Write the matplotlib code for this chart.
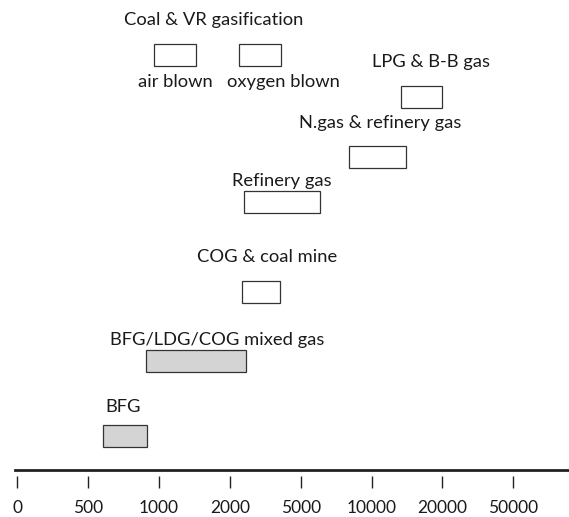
import matplotlib.pyplot as plt
import numpy as np

# tick values of the (stretched) x axis
tick_values = [0, 500, 1000, 2000, 5000, 10000, 20000, 50000]
tick_labels = ["0", "500", "1000", "2000", "5000", "10000", "20000", "50000"]

# ranges
gases = ["air blown", "oxygen blown", "LPG & B-B gas", "N.gas & refinery gas",
         "Refinery gas", "COG & coal mine", "BFG/LDG/COG mixed gas", "BFG"]
low = [950, 2250, 13300, 8050, 2400, 2350, 880, 580]
high = [1440, 3870, 19850, 14000, 6020, 3820, 2460, 890]
shaded = [False, False, False, False, False, False, True, True]

# row centres, in pixels from the top of the figure
row_y = [55, 55, 97, 157, 202, 292, 361, 436]

W, H = 569, 517
axis_y = 469.7

# piecewise-log scale: each tick step takes the same width
anchor_idx = np.arange(1, 9)
anchor_log = np.log10([500, 1000, 2000, 5000, 10000, 20000, 50000, 100000])


def forward(v):
    v = np.asarray(v, dtype=float)
    p = np.interp(np.log10(np.clip(v, 500, None)), anchor_log, anchor_idx)
    return np.where(v < 500, v / 500, p)


def inverse(p):
    p = np.asarray(p, dtype=float)
    v = 10 ** np.interp(p, anchor_idx, anchor_log)
    return np.where(p < 1, p * 500, v)


plt.rcParams["font.family"] = ["Lato", "DejaVu Sans"]

fig = plt.figure(figsize=(W / 100, H / 100), dpi=100)
ax = fig.add_axes([15 / W, (H - axis_y) / H, (W - 15) / W, axis_y / H])
ax.set_xscale("function", functions=(forward, inverse))

step = 70.85
x0 = 17.3
ax.set_xlim(float(inverse((15 - x0) / step)), float(inverse((W - x0) / step)))
ax.set_ylim(axis_y, 0)

for lo, hi, y, sh in zip(low, high, row_y, shaded):
    ax.barh(y, hi - lo, left=lo, height=22,
            color="#d4d4d4" if sh else "white",
            edgecolor="#333333", linewidth=0.9)

for s in ["top", "right", "left", "bottom"]:
    ax.spines[s].set_visible(False)
ax.axhline(axis_y, color="#222222", linewidth=2.0, clip_on=False)
ax.spines["bottom"].set_position(("outward", 4.3))
ax.set_yticks([])
ax.set_xticks(tick_values)
ax.set_xticklabels(tick_labels, fontsize=12.5, color="#1a1a1a")
ax.tick_params(axis="x", direction="out", length=8.4, width=1.0,
               color="#222222", pad=9)
ax.minorticks_off()

# labels: (text, centre x px, centre y px)
labels = [
    ("Coal & VR gasification", 214, 20),
    ("air blown", 175, 82),
    ("oxygen blown", 283, 82),
    ("LPG & B-B gas", 431, 62),
    ("N.gas & refinery gas", 380, 123),
    ("Refinery gas", 282, 181),
    ("COG & coal mine", 267, 257),
    ("BFG/LDG/COG mixed gas", 217, 340),
    ("BFG", 123, 407),
]
for txt, lx, ly in labels:
    fig.text(lx / W, 1 - ly / H, txt, ha="center", va="center",
             fontsize=13.2, color="#1a1a1a")

fig.savefig("out.png", dpi=100)
